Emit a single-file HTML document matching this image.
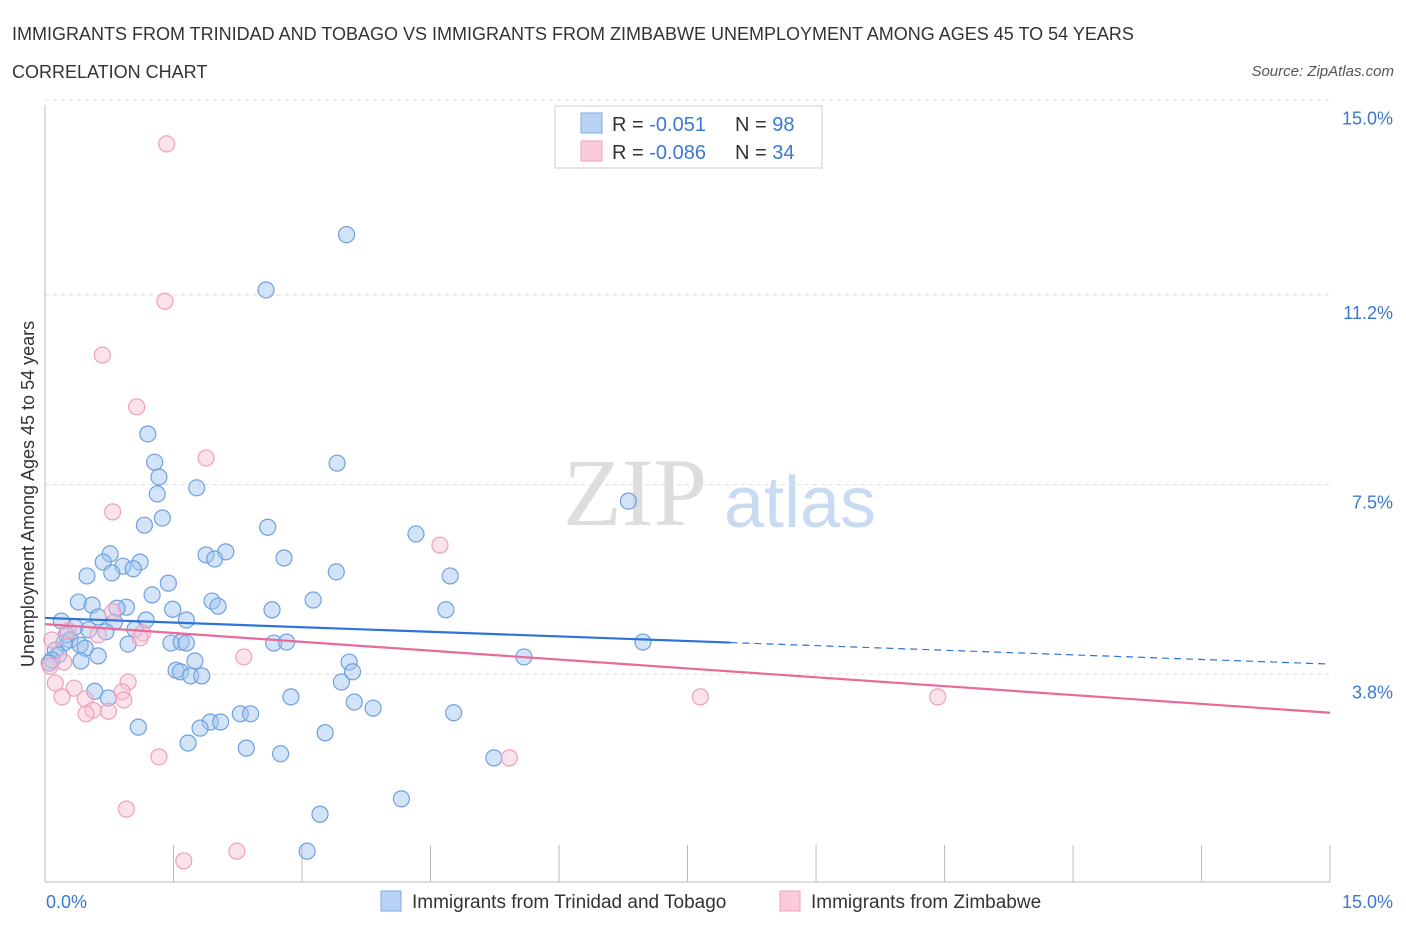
<!DOCTYPE html>
<html><head><meta charset="utf-8"><style>
body{margin:0;background:#fff;width:1406px;height:930px;overflow:hidden;font-family:"Liberation Sans",sans-serif}
</style></head><body>
<svg id="c" width="1406" height="930" xmlns="http://www.w3.org/2000/svg" font-family="Liberation Sans, sans-serif">
<text x="12" y="40" font-size="18" fill="#333">IMMIGRANTS FROM TRINIDAD AND TOBAGO VS IMMIGRANTS FROM ZIMBABWE UNEMPLOYMENT AMONG AGES 45 TO 54 YEARS</text>
<text x="12" y="78" font-size="18" fill="#333">CORRELATION CHART</text>
<text x="1394" y="76" font-size="15" fill="#555" font-style="italic" text-anchor="end">Source: ZipAtlas.com</text>
<g><text x="635" y="525" font-size="96" font-family="Liberation Serif, serif" fill="#ddd" text-anchor="middle">ZIP</text><text x="800" y="527" font-size="72" fill="#c9dbf2" text-anchor="middle">atlas</text></g>
<g id="grid"></g><g id="pts"></g><g id="lines"></g>
<text transform="translate(34,494) rotate(-90)" font-size="18" fill="#333" text-anchor="middle">Unemployment Among Ages 45 to 54 years</text>
<text x="46" y="908" font-size="18" fill="#3a78d4">0.0%</text>
<text x="1393" y="908" font-size="18" fill="#3a78d4" text-anchor="end">15.0%</text>
<g>
<rect x="555" y="106" width="267" height="62" fill="#fff" stroke="#ccc"/>
<rect x="581" y="113" width="21" height="20" fill="#b9d3f5" stroke="#7eaae6"/>
<rect x="581" y="141" width="21" height="20" fill="#fbcbd9" stroke="#f0a0bc"/>
<text x="612" y="131" font-size="20" fill="#333">R = <tspan fill="#3a78d4"> -0.051</tspan></text><text x="735" y="131" font-size="20" fill="#333">N = <tspan fill="#3a78d4">98</tspan></text>
<text x="612" y="159" font-size="20" fill="#333">R = <tspan fill="#3a78d4">-0.086</tspan></text><text x="735" y="159" font-size="20" fill="#333">N = <tspan fill="#3a78d4">34</tspan></text>
</g>
<g>
<rect x="381" y="891" width="20" height="20" fill="#b9d3f5" stroke="#7eaae6"/>
<text x="412" y="908" font-size="19" fill="#333">Immigrants from Trinidad and Tobago</text>
<rect x="780" y="891" width="20" height="20" fill="#fbcbd9" stroke="#f0a0bc"/>
<text x="811" y="908" font-size="19" fill="#333">Immigrants from Zimbabwe</text>
</g>
</svg>
<script>
const yTicks=[3.8,7.5,11.2,15.0];
const yTickLabels=["3.8%","7.5%","11.2%","15.0%"];
const blueX=[3.52,2.58,1.20,3.41,1.28,1.33,1.31,1.77,6.81,1.37,1.16,2.60,4.33,0.76,1.88,2.11,2.79,1.98,0.68,1.11,0.91,1.03,0.78,0.49,3.40,4.73,1.44,1.25,0.39,3.13,1.95,0.55,2.02,0.95,0.84,1.49,2.65,4.68,0.62,0.19,1.18,1.65,0.81,0.35,1.05,0.51,0.71,0.25,0.29,0.22,0.41,0.47,0.97,1.47,1.59,1.65,2.67,2.82,6.98,0.12,0.16,0.08,0.62,0.42,0.05,5.59,3.55,1.75,1.53,1.58,3.59,1.70,1.83,3.46,0.58,2.87,3.61,0.74,3.83,4.77,2.28,2.40,1.93,2.05,1.81,1.09,3.27,1.67,2.35,2.75,5.24,4.16,3.21,3.06];
const blueY=[12.71,11.63,8.82,8.25,8.27,7.98,7.65,7.77,7.51,7.18,7.04,7.00,6.87,6.48,6.46,6.52,6.40,6.38,6.32,6.32,6.24,6.19,6.11,6.05,6.13,6.05,5.91,5.68,5.54,5.58,5.56,5.48,5.46,5.44,5.42,5.40,5.39,5.39,5.25,5.17,5.19,5.19,5.15,5.05,5.01,5.00,4.96,4.90,4.80,4.74,4.70,4.64,4.72,4.74,4.76,4.74,4.74,4.76,4.76,4.60,4.51,4.41,4.49,4.39,4.35,4.47,4.37,4.39,4.21,4.18,4.18,4.10,4.10,3.98,3.80,3.69,3.59,3.67,3.47,3.38,3.36,3.36,3.20,3.20,3.08,3.10,2.99,2.79,2.69,2.58,2.50,1.70,1.40,0.68];
const pinkX=[1.42,1.40,0.67,1.07,1.88,0.79,4.61,0.79,1.14,1.11,0.62,2.32,0.22,0.06,0.12,0.34,0.97,0.90,0.20,0.47,0.92,0.56,0.74,0.48,7.65,10.42,1.33,5.42,0.95,2.24,1.62,0.27,0.08];
const pinkY=[14.48,11.41,10.36,9.35,8.35,7.30,6.65,5.35,4.94,4.84,4.90,4.47,4.37,4.29,3.96,3.86,3.98,3.79,3.69,3.65,3.63,3.43,3.41,3.36,3.69,3.69,2.52,2.50,1.50,0.68,0.49,4.98,4.80];
const blueTrend=[5.23,-0.060]; // intercept, slope
const pinkTrend=[5.11,-0.1153];
const NS="http://www.w3.org/2000/svg";
const X=v=>45+v*85.67, Y=v=>886-v*51.25;
function mk(t,a,p){const e=document.createElementNS(NS,t);for(const k in a)e.setAttribute(k,a[k]);p.appendChild(e);return e;}
const g=document.getElementById('grid');
yTicks.forEach((t,i)=>{
 const l=mk('line',{x1:45,x2:1330,y1:Y(t)-17,y2:Y(t)-17,stroke:'#ddd','stroke-dasharray':'4,4'},g);
 
 
 const tx=mk('text',{x:1393,y:Y(t)-17+24,'font-size':18,fill:'#3a78d4','text-anchor':'end'},g);
 tx.textContent=yTickLabels[i];
 
 
});
const ax=mk('line',{x1:45,x2:1330,y1:882,y2:882,stroke:'#bbb'},g);


const ay=mk('line',{x1:45,x2:45,y1:105,y2:882,stroke:'#bbb'},g);


for(let i=0;i<=10;i++){const t=mk('line',{x1:X(i*1.5),x2:X(i*1.5),y1:845,y2:882,stroke:'#bbb'},g);
 
 }
const P=document.getElementById('pts');
blueX.forEach((x,i)=>{const c=mk('circle',{cx:X(x),cy:Y(blueY[i]),r:8,fill:'rgba(160,195,240,0.45)',stroke:'#6fa0df','stroke-width':1.2},P);
 
 });
pinkX.forEach((x,i)=>{const c=mk('circle',{cx:X(x),cy:Y(pinkY[i]),r:8,fill:'rgba(248,190,210,0.45)',stroke:'#eea0bc','stroke-width':1.2},P);
 
 });
const L=document.getElementById('lines');
const bEnd=8;
const b1=mk('line',{x1:X(0),y1:Y(blueTrend[0]),x2:X(bEnd),y2:Y(blueTrend[0]+blueTrend[1]*bEnd),stroke:'#2f73d8','stroke-width':2.2},L);


const b2=mk('line',{x1:X(bEnd),y1:Y(blueTrend[0]+blueTrend[1]*bEnd),x2:X(15),y2:Y(blueTrend[0]+blueTrend[1]*15),stroke:'#2f73d8','stroke-width':1.2,'stroke-dasharray':'7,5'},L);


const p1=mk('line',{x1:X(0),y1:Y(pinkTrend[0]),x2:X(15),y2:Y(pinkTrend[0]+pinkTrend[1]*15),stroke:'#e8699a','stroke-width':2.2},L);


</script>
</body></html>
